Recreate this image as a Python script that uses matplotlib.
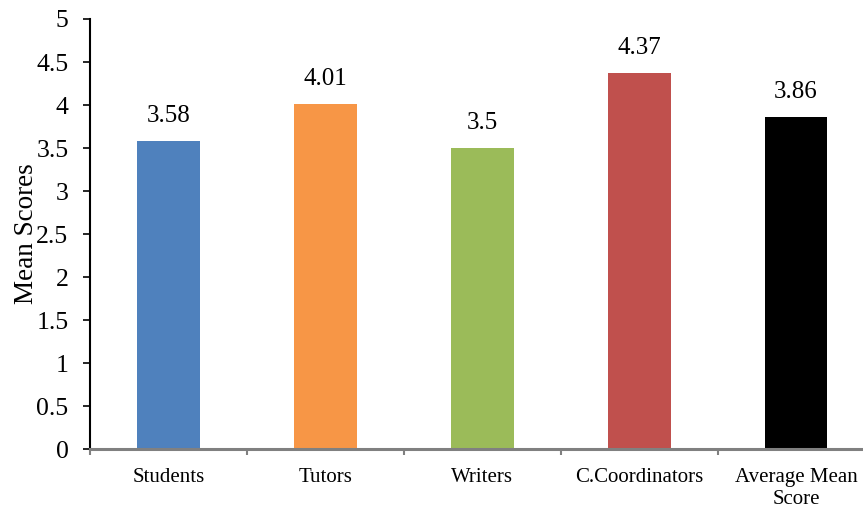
import numpy as np
import matplotlib.pyplot as plt

groups = ["Students", "Tutors", "Writers", "C.Coordinators", "Average Mean\nScore"]
scores = [3.58, 4.01, 3.5, 4.37, 3.86]
colors = ["#4F81BD", "#F79646", "#9BBB59", "#C0504D", "#000000"]

plt.rcParams["font.family"] = ["Liberation Serif", "DejaVu Serif"]

fig = plt.figure(figsize=(8.63, 5.08), dpi=100)
ax = fig.add_axes([0.1043, 0.1161, 0.9091, 0.8465])

x = np.arange(len(groups))
bars = ax.bar(x, scores, width=0.40, color=colors)
for b, v in zip(bars, scores):
    ax.text(b.get_x() + b.get_width() / 2, v + 0.29, "%g" % v,
            ha="center", va="center", fontsize=18)

ax.set_xlim(-0.5, len(groups) - 0.5)
ax.set_ylim(0, 5)
ax.set_yticks(np.arange(0, 5.01, 0.5))
ax.set_yticklabels(["%g" % t for t in np.arange(0, 5.01, 0.5)], fontsize=18.5)
ax.tick_params(axis="y", length=5, width=1.2, pad=10.5, color="black")

ax.set_xticks(x)
ax.set_xticklabels(groups, fontsize=15, linespacing=1.2)
ax.set_xticks(np.arange(-0.5, len(groups), 1.0), minor=True)
ax.tick_params(axis="x", which="major", length=0, pad=14)
ax.tick_params(axis="x", which="minor", length=4, width=1.5, color="#808080")

for s in ["top", "right"]:
    ax.spines[s].set_visible(False)
ax.spines["left"].set_linewidth(1.5)
ax.spines["bottom"].set_color("#808080")
ax.spines["bottom"].set_linewidth(2.2)

ax.set_ylabel("Mean Scores", fontsize=19.5)
ax.yaxis.set_label_coords(-0.065, 0.5)

fig.savefig("out.png", dpi=100)
